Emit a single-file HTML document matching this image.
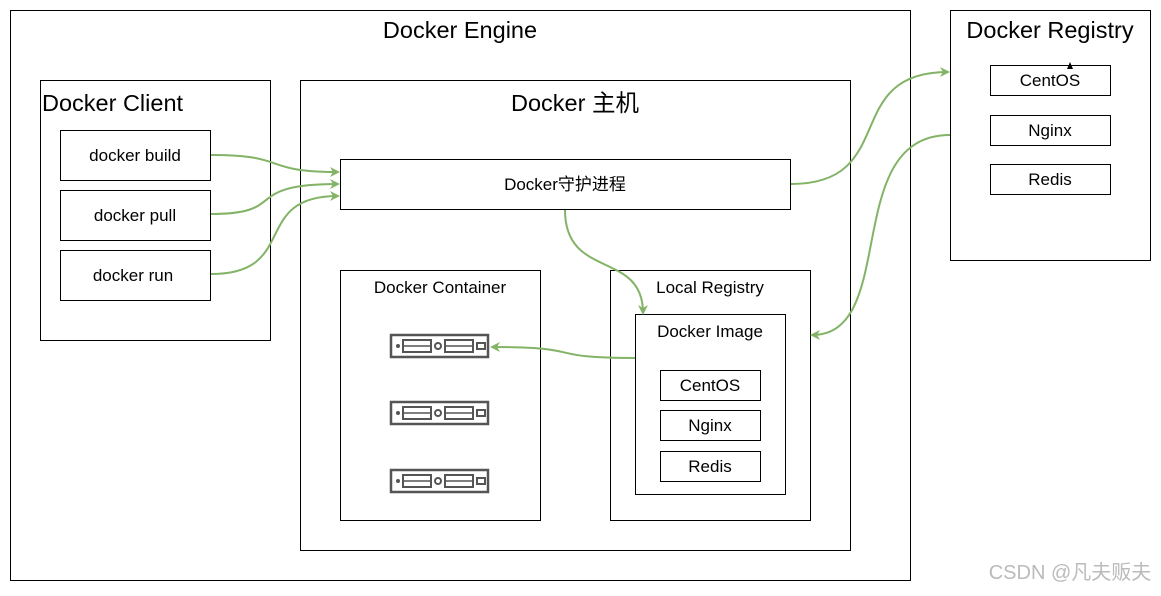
<!DOCTYPE html>
<html><head><meta charset="utf-8"><style>
body{margin:0;background:#fff}
svg text{font-family:"Liberation Sans","Noto Sans CJK SC",sans-serif;fill:#000}
</style></head><body>
<svg width="1161" height="591" viewBox="0 0 1161 591" xmlns="http://www.w3.org/2000/svg">
<defs>
<marker id="a" markerWidth="10" markerHeight="10" refX="8" refY="5" orient="auto" markerUnits="userSpaceOnUse"><path d="M0,0 L10,5 L0,10 L3,5 Z" fill="#82b366"/></marker>
<g id="srv">
<rect x="1" y="1" width="97" height="22" fill="#fff" stroke="#555" stroke-width="2.5"/>
<circle cx="8" cy="12" r="2" fill="#555"/>
<rect x="13" y="6" width="28" height="12" fill="none" stroke="#555" stroke-width="2"/>
<line x1="13" y1="12" x2="41" y2="12" stroke="#555" stroke-width="1.5"/>
<circle cx="48" cy="12" r="3" fill="none" stroke="#555" stroke-width="2"/>
<rect x="55" y="6" width="28" height="12" fill="none" stroke="#555" stroke-width="2"/>
<line x1="55" y1="12" x2="83" y2="12" stroke="#555" stroke-width="1.5"/>
<rect x="87" y="9" width="8" height="6" fill="none" stroke="#555" stroke-width="2"/>
</g>
</defs>
<g fill="#fff" stroke="#000" stroke-width="1">
<rect x="10.5" y="10.5" width="900" height="570"/>
<rect x="950.5" y="10.5" width="200" height="250"/>
<rect x="40.5" y="80.5" width="230" height="260"/>
<rect x="300.5" y="80.5" width="550" height="470"/>
<rect x="60.5" y="130.5" width="150" height="50"/>
<rect x="60.5" y="190.5" width="150" height="50"/>
<rect x="60.5" y="250.5" width="150" height="50"/>
<rect x="340.5" y="159.5" width="450" height="50"/>
<rect x="340.5" y="270.5" width="200" height="250"/>
<rect x="610.5" y="270.5" width="200" height="250"/>
<rect x="635.5" y="314.5" width="150" height="180"/>
<rect x="660.5" y="370.5" width="100" height="30"/>
<rect x="660.5" y="410.5" width="100" height="30"/>
<rect x="660.5" y="451.5" width="100" height="30"/>
<rect x="990.5" y="65.5" width="120" height="30"/>
<rect x="990.5" y="115.5" width="120" height="30"/>
<rect x="990.5" y="164.5" width="120" height="30"/>
</g>
<use href="#srv" x="390" y="334"/>
<use href="#srv" x="390" y="401"/>
<use href="#srv" x="390" y="469"/>
<g fill="none" stroke="#82b366" stroke-width="2" marker-end="url(#a)">
<path d="M211,155 C290,155 260,172 338,172"/>
<path d="M211,214 C290,214 240,184 338,184"/>
<path d="M211,274 C300,274 250,196 338,196"/>
<path d="M791,184 C900,184 840,72 948,72"/>
<path d="M950,135 C840,135 900,335 812,335"/>
<path d="M565,210 C565,280 643,250 643,313"/>
<path d="M635,358 C540,358 590,347 492,347"/>
</g>
<path d="M1067,69 L1070,62 L1073,69 Z" fill="#000"/>
<g font-size="23.5">
<text x="460" y="38" text-anchor="middle">Docker Engine</text>
<text x="1050" y="38" text-anchor="middle">Docker Registry</text>
<text x="42" y="111">Docker Client</text>
<text x="575" y="111" text-anchor="middle">Docker 主机</text>
</g>
<g font-size="17" text-anchor="middle">
<text x="135" y="161">docker build</text>
<text x="135" y="221">docker pull</text>
<text x="133" y="281">docker run</text>
<text x="565" y="190">Docker守护进程</text>
<text x="440" y="293">Docker Container</text>
<text x="710" y="293">Local Registry</text>
<text x="710" y="337">Docker Image</text>
<text x="710" y="391">CentOS</text>
<text x="710" y="431">Nginx</text>
<text x="710" y="472">Redis</text>
<text x="1050" y="86">CentOS</text>
<text x="1050" y="136">Nginx</text>
<text x="1050" y="185">Redis</text>
</g>
<text x="1070" y="579" font-size="20" text-anchor="middle" style="fill:#bbb">CSDN @凡夫贩夫</text>
</svg>
</body></html>
